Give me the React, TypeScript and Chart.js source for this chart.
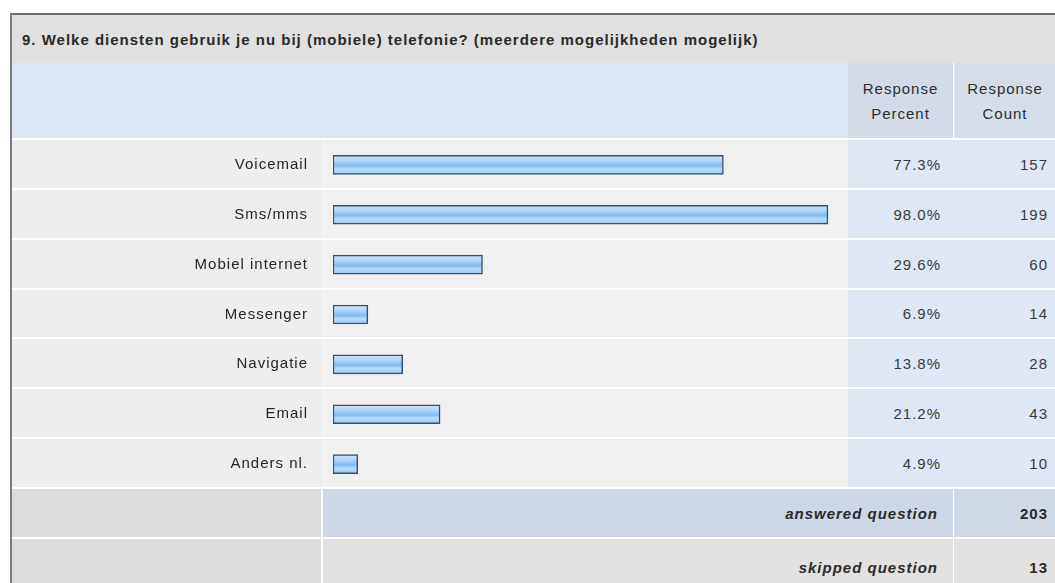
import React, { useEffect, useRef } from "react";
import { Chart, registerables } from "chart.js";

Chart.register(...registerables);

const title = "9. Welke diensten gebruik je nu bij (mobiele) telefonie? (meerdere mogelijkheden mogelijk)";
const categories = ["Voicemail", "Sms/mms", "Mobiel internet", "Messenger", "Navigatie", "Email", "Anders nl."];
const percents = [77.3, 98.0, 29.6, 6.9, 13.8, 21.2, 4.9];
const counts = [157, 199, 60, 14, 28, 43, 10];
const headerPercent = ["Response", "Percent"];
const headerCount = ["Response", "Count"];
const answeredLabel = "answered question";
const skippedLabel = "skipped question";
const answeredCount = 203;
const skippedCount = 13;

const FONT = "'Liberation Sans', Arial, Helvetica, sans-serif";
const ROW_TOP = 140;
const ROW_H = 349 / 7;

function abs(left: number, top: number, width: number, height: number, bg: string, extra: any = {}) {
  return { position: "absolute" as const, left, top, width, height, background: bg, ...extra };
}

export default function App() {
  const canvasRef = useRef<HTMLCanvasElement | null>(null);

  useEffect(() => {
    const canvas = canvasRef.current;
    if (!canvas) return;
    const spacingPlugin = {
      id: "spacing",
      beforeDraw(chart: any) {
        try {
          chart.ctx.letterSpacing = "1px";
        } catch (e) {}
      },
    };
    const chart = new Chart(canvas, {
      type: "bar",
      data: {
        labels: categories,
        datasets: [
          {
            data: percents,
            barThickness: 19,
            borderWidth: 1.5,
            borderColor: "#3b4f68",
            borderSkipped: false,
            backgroundColor: (ctx: any) => {
              const ch = ctx.chart;
              const ys = ch.scales && ch.scales.y;
              if (!ys || ctx.dataIndex === undefined) return "#9ccbf5";
              const yc = ys.getPixelForValue(ctx.dataIndex);
              if (!isFinite(yc)) return "#9ccbf5";
              const g = ch.ctx.createLinearGradient(0, yc - 9.5, 0, yc + 9.5);
              g.addColorStop(0, "#cfe6fd");
              g.addColorStop(0.3, "#acd4fa");
              g.addColorStop(0.55, "#80bcf1");
              g.addColorStop(0.72, "#b9dcfc");
              g.addColorStop(1, "#98c8f4");
              return g;
            },
          },
        ],
      },
      options: {
        indexAxis: "y",
        animation: false,
        responsive: false,
        maintainAspectRatio: false,
        events: [],
        layout: { padding: { left: 0, right: 10, top: 0, bottom: 0 } },
        plugins: { legend: { display: false }, tooltip: { enabled: false }, title: { display: false } },
        scales: {
          x: { min: 0, max: 100, display: false },
          y: {
            border: { display: false },
            grid: { display: false, drawTicks: false },
            ticks: {
              padding: 25,
              color: "#262626",
              font: { family: FONT, size: 15 },
            },
            afterFit: (scale: any) => {
              scale.width = 323;
              scale.paddingTop = 0;
              scale.paddingBottom = 0;
            },
          },
        },
      },
      plugins: [spacingPlugin],
    } as any);
    return () => chart.destroy();
  }, []);

  const textBase = { fontFamily: FONT, fontSize: 15, letterSpacing: "1px", color: "#3a3a3a" };

  return (
    <div style={{ position: "fixed", left: 0, top: 0, width: 1055, height: 583, background: "#ffffff", overflow: "hidden", fontFamily: FONT }}>
      {/* borders */}
      <div style={abs(10, 13, 1045, 2, "#707070")} />
      <div style={abs(10, 13, 2, 570, "#7c7c7c")} />
      {/* title row */}
      <div style={abs(12, 15, 1043, 48, "#e0e0e0", { display: "flex", alignItems: "center" })}>
        <span style={{ marginLeft: 10, fontFamily: FONT, fontSize: 15, fontWeight: "bold", color: "#2a2a2a", letterSpacing: "1px", whiteSpace: "nowrap" }}>{title}</span>
      </div>
      {/* header row */}
      <div style={abs(12, 63, 836, 75, "#dde6f5")} />
      <div style={abs(848, 63, 105, 75, "#d3dbe8", { display: "flex", flexDirection: "column", justifyContent: "center", alignItems: "center", lineHeight: "25px", ...textBase, color: "#2e2e2e" })}>
        <div>{headerPercent[0]}</div>
        <div>{headerPercent[1]}</div>
      </div>
      <div style={abs(954, 63, 101, 75, "#d5dde9", { display: "flex", flexDirection: "column", justifyContent: "center", alignItems: "center", lineHeight: "25px", ...textBase, color: "#2e2e2e", borderLeft: "1px solid #e4e9f1", boxSizing: "border-box" })}>
        <div>{headerCount[0]}</div>
        <div>{headerCount[1]}</div>
      </div>
      {/* data rows */}
      {categories.map((c, i) => {
        const top = Math.round(ROW_TOP + i * ROW_H);
        const bottom = Math.round(ROW_TOP + (i + 1) * ROW_H);
        const h = bottom - top - 2;
        return (
          <React.Fragment key={c}>
            <div style={abs(12, top, 311, h, "#ededed")} />
            <div style={abs(323, top, 525, h, "#f0f0f0", { borderLeft: "1px solid #f8f8f8", boxSizing: "border-box" })} />
            <div style={abs(848, top, 207, h, "#dfe7f5")} />
            <div style={abs(848, top, 105, h, "transparent", { display: "flex", alignItems: "center", justifyContent: "flex-end", ...textBase })}>
              <span style={{ marginRight: 12 }}>{percents[i].toFixed(1) + "%"}</span>
            </div>
            <div style={abs(955, top, 100, h, "transparent", { display: "flex", alignItems: "center", justifyContent: "flex-end", ...textBase })}>
              <span style={{ marginRight: 7 }}>{counts[i]}</span>
            </div>
          </React.Fragment>
        );
      })}
      {/* answered row */}
      <div style={abs(12, 489, 309, 48, "#dcdcdc")} />
      <div style={abs(323, 489, 630, 48, "#cdd7e5", { display: "flex", alignItems: "center", justifyContent: "flex-end", ...textBase, color: "#2a2a2a", fontWeight: "bold", fontStyle: "italic" })}>
        <span style={{ marginRight: 15 }}>{answeredLabel}</span>
      </div>
      <div style={abs(954, 489, 101, 48, "#cfd9e6", { display: "flex", alignItems: "center", justifyContent: "flex-end", ...textBase, color: "#2a2a2a", fontWeight: "bold" })}>
        <span style={{ marginRight: 7 }}>{answeredCount}</span>
      </div>
      {/* skipped row */}
      <div style={abs(12, 539, 309, 56, "#dddddd")} />
      <div style={abs(323, 539, 630, 56, "#e2e1df", { display: "flex", alignItems: "center", justifyContent: "flex-end", ...textBase, color: "#2a2a2a", fontWeight: "bold", fontStyle: "italic" })}>
        <span style={{ marginRight: 15 }}>{skippedLabel}</span>
      </div>
      <div style={abs(954, 539, 101, 56, "#e2e1df", { display: "flex", alignItems: "center", justifyContent: "flex-end", ...textBase, color: "#2a2a2a", fontWeight: "bold" })}>
        <span style={{ marginRight: 7 }}>{skippedCount}</span>
      </div>
      {/* chart canvas */}
      <div style={{ position: "absolute", left: 10, top: ROW_TOP, width: 838, height: 349 }}>
        <canvas ref={canvasRef} width={838} height={349} style={{ width: 838, height: 349, display: "block" }} />
      </div>
    </div>
  );
}
